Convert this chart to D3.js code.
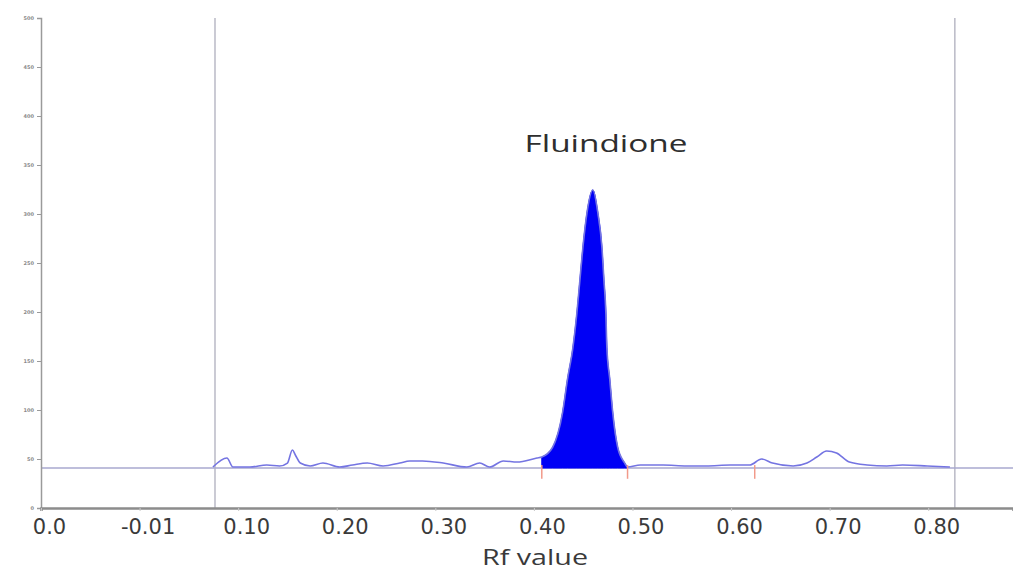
<!DOCTYPE html>
<html>
<head>
<meta charset="utf-8">
<script src="https://cdn.jsdelivr.net/npm/d3@7"></script>
<style>
  body { margin: 0; background: #fff; }
  svg { display: block; }
</style>
</head>
<body>
<svg class="densitogram" width="1013" height="572"></svg>
<script>
// axis ticks
var rfTicks = [-0.1, 0.0, 0.1, 0.2, 0.3, 0.4, 0.5, 0.6, 0.7, 0.8];
var rfLabels = ["0.0", "-0.01", "0.10", "0.20", "0.30", "0.40", "0.50", "0.60", "0.70", "0.80"];
var auTicks = [0, 50, 100, 150, 200, 250, 300, 350, 400, 450, 500];

// scanned track (Rf, AU)
var traceRf = [0.0744, 0.0886, 0.0947, 0.112, 0.129, 0.142, 0.150, 0.155, 0.158, 0.163,
  0.173, 0.186, 0.203, 0.216, 0.231, 0.247, 0.264, 0.274, 0.287, 0.308,
  0.332, 0.345, 0.355, 0.369, 0.383, 0.403, 0.408, 0.419, 0.429, 0.434,
  0.4396, 0.4436, 0.4467, 0.4497, 0.4538, 0.4598, 0.4649, 0.469, 0.471, 0.473,
  0.474, 0.477, 0.480, 0.485, 0.492, 0.495, 0.508, 0.531, 0.555, 0.575,
  0.599, 0.619, 0.631, 0.642, 0.663, 0.677, 0.687, 0.697, 0.707, 0.720,
  0.738, 0.758, 0.774, 0.799, 0.822];
var traceAu = [41.8, 51.0, 41.8, 41.8, 43.9, 42.9, 45.9, 59.2, 54.1, 45.9,
  42.9, 45.9, 41.8, 43.9, 45.9, 42.9, 45.9, 48.0, 48.0, 45.9,
  41.8, 45.9, 41.8, 48.0, 46.9, 51.0, 52.0, 62, 97, 131,
  164, 199, 233, 266, 301, 324.5, 301, 266, 233, 199,
  164, 131, 97, 62, 46, 41.8, 43.9, 43.9, 42.9, 42.9,
  43.9, 43.9, 50.0, 45.9, 42.9, 45.9, 52.0, 58.2, 56.1, 46.9,
  43.9, 42.9, 43.9, 42.9, 41.8];

var baselineAu = 40.8;
var scanWindow = [0.0765, 0.827];
var peakRange = [0.408, 0.495];
var peakMarks = [0.408, 0.495, 0.624];
var peakName = "Fluindione";
var xTitle = "Rf value";

var svg = d3.select(".densitogram");

var x = d3.scaleLinear().domain([-0.1, 0.886]).range([41, 1013]);
var y = d3.scaleLinear().domain([0, 500]).range([508, 18]);

var track = traceRf.map(function(r, i) { return { rf: r, au: traceAu[i] }; });

// scan window limits
svg.selectAll(".limit")
    .data(scanWindow)
    .enter().append("line")
    .attr("class", "limit")
    .attr("x1", function(d) { return x(d); })
    .attr("x2", function(d) { return x(d); })
    .attr("y1", y(500))
    .attr("y2", y(0))
    .attr("stroke", "#b9b9c6")
    .attr("stroke-width", 1.5);

// baseline
svg.append("line")
    .attr("x1", x(-0.1))
    .attr("x2", x(0.886))
    .attr("y1", y(baselineAu))
    .attr("y2", y(baselineAu))
    .attr("stroke", "#a9a9cf")
    .attr("stroke-width", 1.5);

// integrated peak
var peak = track.filter(function(d) { return d.rf >= peakRange[0] && d.rf <= peakRange[1]; });
var area = d3.area()
    .curve(d3.curveMonotoneX)
    .x(function(d) { return x(d.rf); })
    .y0(y(baselineAu))
    .y1(function(d) { return y(d.au); });
svg.append("path")
    .attr("d", area(peak))
    .attr("fill", "#0000f5")
    .attr("stroke", "#0000f5")
    .attr("stroke-width", 1);

// signal line
var line = d3.line()
    .curve(d3.curveMonotoneX)
    .x(function(d) { return x(d.rf); })
    .y(function(d) { return y(d.au); });
svg.append("path")
    .attr("d", line(track))
    .attr("fill", "none")
    .attr("stroke", "#7474e2")
    .attr("stroke-width", 1.6);

// peak start / end markers
svg.selectAll(".mark")
    .data(peakMarks)
    .enter().append("line")
    .attr("class", "mark")
    .attr("x1", function(d) { return x(d); })
    .attr("x2", function(d) { return x(d); })
    .attr("y1", y(baselineAu + 3))
    .attr("y2", y(baselineAu - 11))
    .attr("stroke", "#f29a8a")
    .attr("stroke-width", 1.5);

// y axis
var yAxis = svg.append("g")
    .attr("transform", "translate(" + x(-0.1) + ",0)")
    .call(d3.axisLeft(y).tickValues(auTicks).tickSize(4).tickPadding(3));
yAxis.select(".domain").attr("stroke", "#9a9a9a").attr("stroke-width", 1.5);
yAxis.selectAll(".tick line").attr("stroke", "#9a9a9a");
yAxis.selectAll(".tick text")
    .attr("fill", "#8a8a8a")
    .style("font", "bold 5px 'DejaVu Sans', sans-serif");

// x axis
var xAxis = svg.append("g")
    .attr("transform", "translate(0," + y(0) + ")")
    .call(d3.axisBottom(x).tickValues(rfTicks)
        .tickFormat(function(d, i) { return rfLabels[i]; })
        .tickSize(3).tickPadding(8));
xAxis.select(".domain").attr("stroke", "#8c8c8c").attr("stroke-width", 2.5);
xAxis.selectAll(".tick line").attr("stroke", "#c8c8c8");
xAxis.selectAll(".tick text")
    .attr("dx", 8)
    .attr("fill", "#3a3a3a")
    .style("font", "21px 'DejaVu Sans', sans-serif");

// titles
svg.append("text")
    .attr("x", 535)
    .attr("y", 565)
    .attr("text-anchor", "middle")
    .attr("textLength", 106)
    .attr("lengthAdjust", "spacingAndGlyphs")
    .attr("fill", "#3a3a3a")
    .style("font", "21px 'Open Sans', sans-serif")
    .text(xTitle);

svg.append("text")
    .attr("x", 606)
    .attr("y", 152)
    .attr("text-anchor", "middle")
    .attr("textLength", 163)
    .attr("lengthAdjust", "spacingAndGlyphs")
    .attr("fill", "#2e2e2e")
    .style("font", "23px 'Open Sans', sans-serif")
    .text(peakName);
</script>
</body>
</html>
